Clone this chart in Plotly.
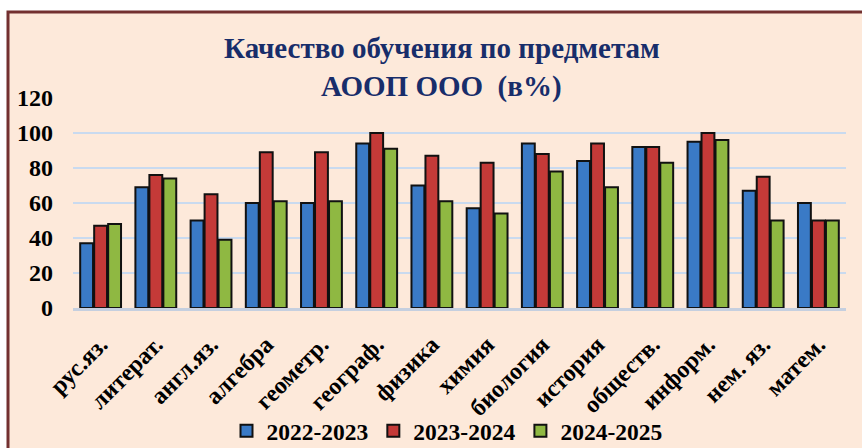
import plotly.graph_objects as go

categories = ["рус.яз.", "литерат.", "англ.яз.", "алгебра", "геометр.", "географ.",
              "физика", "химия", "биология", "история", "обществ.", "информ.",
              "нем. яз.", "матем."]
y2022 = [37, 69, 50, 60, 60, 94, 70, 57, 94, 84, 92, 95, 67, 60]
y2023 = [47, 76, 65, 89, 89, 100, 87, 83, 88, 94, 92, 100, 75, 50]
y2024 = [48, 74, 39, 61, 61, 91, 61, 54, 78, 69, 83, 96, 50, 50]
series_names = ["2022-2023", "2023-2024", "2024-2025"]
series_colors = ["#3A7AC6", "#C43A38", "#8FB842"]
y_ticks = [0, 20, 40, 60, 80, 100, 120]

FONT = "Liberation Serif, Times New Roman, serif"
W, H = 862, 448
L, R, T, B = 73, 16, 98, 140
pw, ph = W - L - R, H - T - B

def px_x(p):
    return (p - L) / pw

def px_y(p):
    return (H - B - p) / ph

fig = go.Figure()
for name, vals, col in zip(series_names, [y2022, y2023, y2024], series_colors):
    fig.add_trace(go.Bar(
        x=categories, y=vals, name=name,
        marker=dict(color=col, line=dict(color="#111111", width=2)),
    ))

fig.add_shape(type="rect", xref="paper", yref="paper",
              x0=px_x(8), x1=px_x(W + 20), y0=px_y(H + 20), y1=px_y(12),
              fillcolor="#FDE9DA", line=dict(color="#733030", width=3), layer="below")

fig.add_annotation(text="Качество обучения по предметам", xref="paper", yref="paper",
                   x=px_x(442), y=px_y(48), showarrow=False, xanchor="center", yanchor="middle",
                   font=dict(family=FONT, size=29, color="#182D6A", weight="bold"))
fig.add_annotation(text="АООП ООО  (в%)", xref="paper", yref="paper",
                   x=px_x(441), y=px_y(86), showarrow=False, xanchor="center", yanchor="middle",
                   font=dict(family=FONT, size=29, color="#182D6A", weight="bold"))

fig.update_layout(
    width=W, height=H,
    margin=dict(l=L, r=R, t=T, b=B, autoexpand=False),
    paper_bgcolor="white",
    plot_bgcolor="#ECEFDF",
    barmode="group",
    bargap=0.24,
    bargroupgap=0.08,
    showlegend=True,
    legend=dict(orientation="h", x=px_x(447), xanchor="center", y=px_y(431), yanchor="middle",
                font=dict(family=FONT, size=23.5, color="#000000", weight="bold"),
                bgcolor="rgba(0,0,0,0)", traceorder="normal"),
    font=dict(family=FONT, color="#000000", weight="bold"),
)
fig.update_yaxes(range=[0, 120], tickvals=y_ticks, ticktext=[str(v) for v in y_ticks],
                 showgrid=True, gridcolor="#C9DAEF", gridwidth=2, zeroline=False,
                 tickfont=dict(family=FONT, size=24, color="#000000", weight="bold"),
                 ticklabelstandoff=19, showline=False)
fig.update_xaxes(tickangle=-45, tickfont=dict(family=FONT, size=24, color="#000000", weight="bold"),
                 showline=True, linecolor="#C5CFDF", linewidth=3, ticks="",
                 ticklabelstandoff=10)

fig.write_html("out.html", config={"displayModeBar": False},
               post_script="document.body.style.margin='0';document.body.style.padding='0';")
